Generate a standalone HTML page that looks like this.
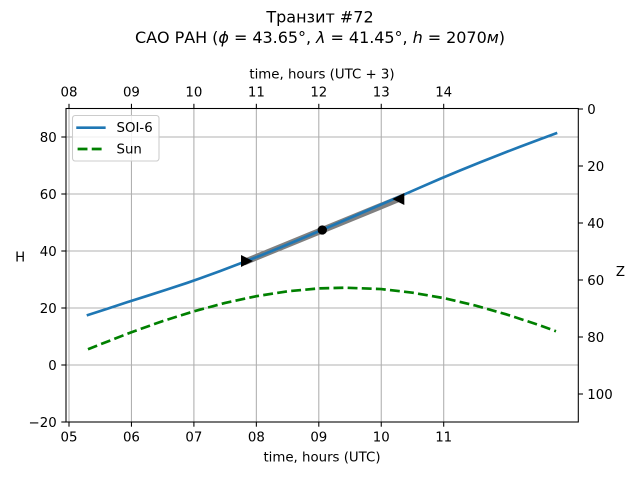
<!DOCTYPE html>
<html>
<head>
<meta charset="utf-8">
<style>
  html, body { margin: 0; padding: 0; background: #ffffff; }
  svg { display: block; }
  text { font-family: "DejaVu Sans", "Liberation Sans", "Noto Sans CJK SC", sans-serif; fill: #000; }
</style>
</head>
<body>
<svg width="640" height="480" viewBox="0 0 640 480" xmlns="http://www.w3.org/2000/svg">
  <rect x="0" y="0" width="640" height="480" fill="#ffffff"/>

  <!-- Title -->
  <text x="320" y="22.5" text-anchor="middle" font-size="16">Транзит #72</text>
  <text x="320" y="43" text-anchor="middle" font-size="16" textLength="370" lengthAdjust="spacing">САО РАН (<tspan font-style="italic">ϕ</tspan> = 43.65°, <tspan font-style="italic">λ</tspan> = 41.45°, <tspan font-style="italic">h</tspan> = 2070<tspan font-style="italic">м</tspan>)</text>

  <!-- Grid -->
  <g stroke="#b0b0b0" stroke-width="1.07" fill="none">
    <line x1="69" y1="108.5" x2="69" y2="422"/>
    <line x1="131.45" y1="108.5" x2="131.45" y2="422"/>
    <line x1="193.9" y1="108.5" x2="193.9" y2="422"/>
    <line x1="256.35" y1="108.5" x2="256.35" y2="422"/>
    <line x1="318.8" y1="108.5" x2="318.8" y2="422"/>
    <line x1="381.25" y1="108.5" x2="381.25" y2="422"/>
    <line x1="443.7" y1="108.5" x2="443.7" y2="422"/>
    <line x1="66" y1="137" x2="578.3" y2="137"/>
    <line x1="66" y1="194" x2="578.3" y2="194"/>
    <line x1="66" y1="251" x2="578.3" y2="251"/>
    <line x1="66" y1="308" x2="578.3" y2="308"/>
    <line x1="66" y1="365" x2="578.3" y2="365"/>
  </g>

  <!-- Sun (dashed green) -->
  <polyline fill="none" stroke="#008000" stroke-width="2.67" stroke-dasharray="9.87 4.27" stroke-linecap="butt" stroke-linejoin="round"
    points="87.98,349.3 100.2,344.4 131.45,332.2 162.7,321.1 193.9,311.3 225.1,302.9 256.35,296.2 287.6,291.3 318.8,288.4 345,287.7 381.25,289.1 412.5,292.7 443.7,298.1 474.9,305.4 506.15,314.3 537.4,324.5 556,331.2"/>

  <!-- Gray track segment -->
  <line x1="247" y1="261" x2="398.3" y2="199" stroke="#808080" stroke-width="6.5" stroke-linecap="square"/>

  <!-- SOI-6 (blue) -->
  <polyline fill="none" stroke="#1f77b4" stroke-width="2.67" stroke-linecap="square" stroke-linejoin="round"
    points="88,315 107,308.84 127,302.25 147,295.94 167,289.5 187,282.95 200,278.38 220,271.08 240,263.52 260,255.7 280,247.63 300,239.29 320,230.79 340,222.24 360,213.64 380,205 400,196.3 420,187.55 440,178.87 460,170.5 480,162.34 500,154.46 520,146.75 540,139.22 556,133.34"/>

  <!-- Markers -->
  <polygon points="253,261 241,255 241,267" fill="#000"/>
  <polygon points="392.3,199 404.3,193 404.3,205" fill="#000"/>
  <circle cx="322.3" cy="230" r="4.65" fill="#000"/>

  <!-- Spines -->
  <rect x="66" y="108.5" width="512.3" height="313.5" fill="none" stroke="#000" stroke-width="1.07"/>

  <!-- Ticks -->
  <g stroke="#000" stroke-width="1.07">
    <!-- bottom -->
    <line x1="69" y1="422" x2="69" y2="426.7"/>
    <line x1="131.45" y1="422" x2="131.45" y2="426.7"/>
    <line x1="193.9" y1="422" x2="193.9" y2="426.7"/>
    <line x1="256.35" y1="422" x2="256.35" y2="426.7"/>
    <line x1="318.8" y1="422" x2="318.8" y2="426.7"/>
    <line x1="381.25" y1="422" x2="381.25" y2="426.7"/>
    <line x1="443.7" y1="422" x2="443.7" y2="426.7"/>
    <!-- top -->
    <line x1="69" y1="108.5" x2="69" y2="103.8"/>
    <line x1="131.45" y1="108.5" x2="131.45" y2="103.8"/>
    <line x1="193.9" y1="108.5" x2="193.9" y2="103.8"/>
    <line x1="256.35" y1="108.5" x2="256.35" y2="103.8"/>
    <line x1="318.8" y1="108.5" x2="318.8" y2="103.8"/>
    <line x1="381.25" y1="108.5" x2="381.25" y2="103.8"/>
    <line x1="443.7" y1="108.5" x2="443.7" y2="103.8"/>
    <!-- left -->
    <line x1="61.3" y1="137" x2="66" y2="137"/>
    <line x1="61.3" y1="194" x2="66" y2="194"/>
    <line x1="61.3" y1="251" x2="66" y2="251"/>
    <line x1="61.3" y1="308" x2="66" y2="308"/>
    <line x1="61.3" y1="365" x2="66" y2="365"/>
    <line x1="61.3" y1="422" x2="66" y2="422"/>
    <!-- right -->
    <line x1="578.3" y1="109" x2="583" y2="109"/>
    <line x1="578.3" y1="166" x2="583" y2="166"/>
    <line x1="578.3" y1="223" x2="583" y2="223"/>
    <line x1="578.3" y1="280" x2="583" y2="280"/>
    <line x1="578.3" y1="337" x2="583" y2="337"/>
    <line x1="578.3" y1="394" x2="583" y2="394"/>
  </g>

  <!-- Bottom tick labels -->
  <g font-size="13.33" text-anchor="middle">
    <text x="69" y="441.5">05</text>
    <text x="131.45" y="441.5">06</text>
    <text x="193.9" y="441.5">07</text>
    <text x="256.35" y="441.5">08</text>
    <text x="318.8" y="441.5">09</text>
    <text x="381.25" y="441.5">10</text>
    <text x="443.7" y="441.5">11</text>
  </g>
  <text x="322" y="461.3" font-size="13.33" text-anchor="middle">time, hours (UTC)</text>

  <!-- Top tick labels -->
  <g font-size="13.33" text-anchor="middle">
    <text x="69" y="96.5">08</text>
    <text x="131.45" y="96.5">09</text>
    <text x="193.9" y="96.5">10</text>
    <text x="256.35" y="96.5">11</text>
    <text x="318.8" y="96.5">12</text>
    <text x="381.25" y="96.5">13</text>
    <text x="443.7" y="96.5">14</text>
  </g>
  <text x="322" y="78.3" font-size="13.33" text-anchor="middle">time, hours (UTC + 3)</text>

  <!-- Left tick labels -->
  <g font-size="13.33" text-anchor="end">
    <text x="56.7" y="141.9">80</text>
    <text x="56.7" y="198.9">60</text>
    <text x="56.7" y="255.9">40</text>
    <text x="56.7" y="312.9">20</text>
    <text x="56.7" y="369.9">0</text>
    <text x="56.7" y="426.9">−20</text>
  </g>
  <text x="20.2" y="261.7" font-size="13.33" text-anchor="middle">H</text>

  <!-- Right tick labels -->
  <g font-size="13.33" text-anchor="start">
    <text x="587.3" y="113.9">0</text>
    <text x="587.3" y="170.9">20</text>
    <text x="587.3" y="227.9">40</text>
    <text x="587.3" y="284.9">60</text>
    <text x="587.3" y="341.9">80</text>
    <text x="587.3" y="398.9">100</text>
  </g>
  <text x="620.5" y="276" font-size="13.33" text-anchor="middle">Z</text>

  <!-- Legend -->
  <rect x="72.5" y="115.5" width="86.5" height="45.5" rx="2.7" ry="2.7" fill="#ffffff" fill-opacity="0.8" stroke="#cccccc" stroke-width="1.07"/>
  <line x1="77.6" y1="127.7" x2="104.3" y2="127.7" stroke="#1f77b4" stroke-width="2.67" stroke-linecap="square"/>
  <line x1="77.6" y1="149" x2="104.3" y2="149" stroke="#008000" stroke-width="2.67" stroke-dasharray="9.87 4.27"/>
  <text x="116.5" y="131.9" font-size="13.33">SOI-6</text>
  <text x="116.5" y="153.5" font-size="13.33">Sun</text>
</svg>
</body>
</html>
